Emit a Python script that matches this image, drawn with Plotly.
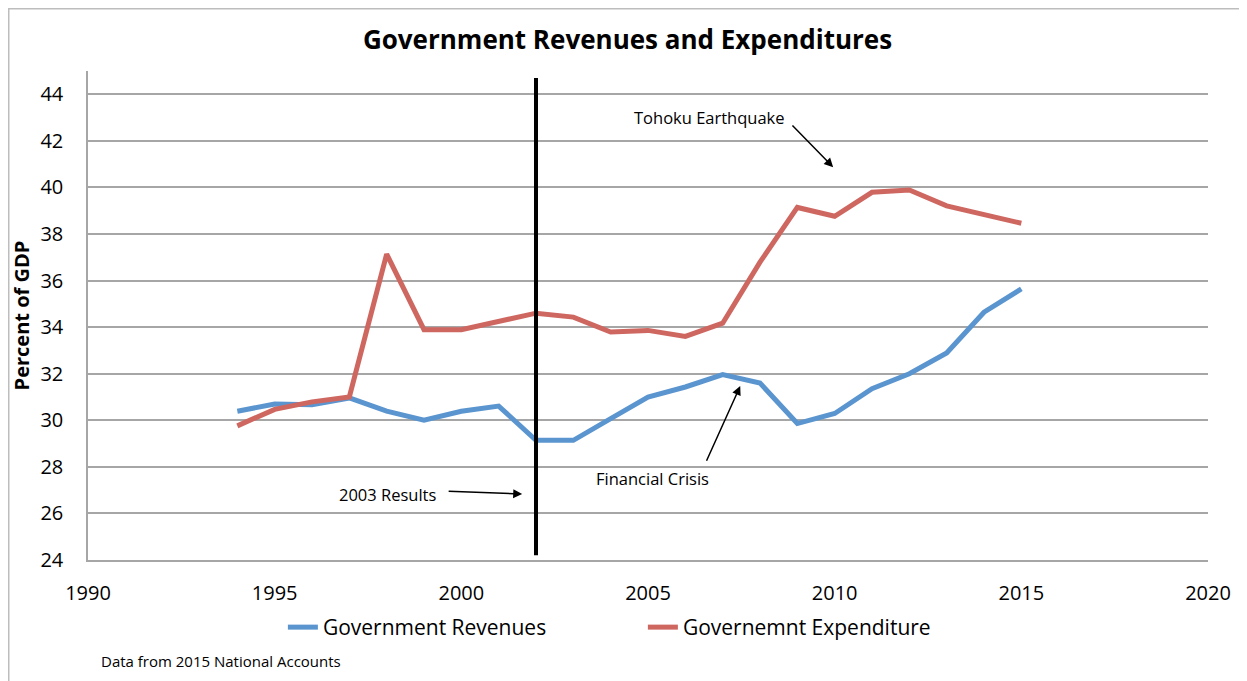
import plotly.graph_objects as go

years = list(range(1994, 2016))
revenues = [30.39, 30.70, 30.67, 30.96, 30.39, 30.00, 30.39, 30.61, 29.14, 29.14,
            30.07, 31.00, 31.43, 31.96, 31.60, 29.86, 30.29, 31.36, 32.00, 32.89,
            34.64, 35.64]
expenditure = [29.76, 30.47, 30.79, 31.00, 37.14, 33.89, 33.89, 34.24, 34.60, 34.43,
               33.79, 33.86, 33.60, 34.17, 36.79, 39.14, 38.76, 39.79, 39.89, 39.21,
               38.86, 38.46]
x_ticks = [1990, 1995, 2000, 2005, 2010, 2015, 2020]
y_ticks = [24, 26, 28, 30, 32, 34, 36, 38, 40, 42, 44]
results_year = 2002

FONT = "Open Sans"
BLUE = "#5b95cf"
RED = "#cf6761"

W, H = 1239, 673
ML, MR, MT, MB = 80, 39, 63, 121
PW, PH = W - ML - MR, H - MT - MB

fig = go.Figure()
fig.add_trace(go.Scatter(x=years, y=revenues, mode="lines", name="Government Revenues",
                         line=dict(color=BLUE, width=5)))
fig.add_trace(go.Scatter(x=years, y=expenditure, mode="lines", name="Governemnt Expenditure",
                         line=dict(color=RED, width=5)))

fig.add_shape(type="line", xref="x", yref="y", x0=results_year, x1=results_year,
              y0=24.2, y1=44.7, line=dict(color="black", width=4))

# outer chart border (left, top, right edges)
fig.add_shape(type="path", xref="paper", yref="paper",
              path=(f"M {(0.75 - ML) / PW} {-(MB + 5) / PH} "
                    f"L {(0.75 - ML) / PW} {1 + (MT - 0.75) / PH} "
                    f"L {(W - 0.75 - ML) / PW} {1 + (MT - 0.75) / PH} "
                    f"L {(W - 0.75 - ML) / PW} {-(MB + 5) / PH}"),
              line=dict(color="#bdbdbd", width=1.5), layer="below")

ann_font = dict(family=FONT, size=16.5, color="black")
arrows = [
    # (tip x, tip y, tail x, tail y)
    (2001.63, 26.83, 1999.62, 26.96),
    (2007.47, 31.47, 2006.55, 28.20),
    (2009.96, 40.87, 2008.83, 42.72),
]
for tx, ty, sx, sy in arrows:
    fig.add_annotation(x=tx, y=ty, ax=sx, ay=sy, xref="x", yref="y", axref="x", ayref="y",
                       text="", showarrow=True, arrowhead=2, arrowsize=1.2, arrowwidth=1.5,
                       arrowcolor="black")
labels = [
    ("2003 Results", 1998.04, 26.83),
    ("Financial Crisis", 2005.13, 27.48),
    ("Tohoku Earthquake", 2006.66, 43.02),
]
for t, lx, ly in labels:
    fig.add_annotation(x=lx, y=ly, xref="x", yref="y", text=t, showarrow=False, font=ann_font)

fig.add_annotation(text="Data from 2015 National Accounts", xref="paper", yref="paper",
                   x=0.0098, y=-0.2066, xanchor="left", yanchor="middle", showarrow=False,
                   font=dict(family=FONT, size=15, color="black"))

fig.update_layout(
    width=W, height=H,
    margin=dict(l=ML, r=MR, t=MT, b=MB),
    paper_bgcolor="white", plot_bgcolor="white",
    title=dict(text="<b>Government Revenues and Expenditures</b>", x=0.5, xanchor="center",
               y=0.9525, yanchor="middle", font=dict(family=FONT, size=26, color="black")),
    font=dict(family=FONT, color="black"),
    showlegend=True,
    legend=dict(orientation="h", x=0.174, xanchor="left", y=-0.138, yanchor="middle",
                font=dict(family=FONT, size=21, color="black"), entrywidth=315,
                bgcolor="rgba(0,0,0,0)"),
    xaxis=dict(range=[1990, 2020], tickvals=x_ticks, showgrid=False, zeroline=False,
               showline=True, linecolor="#a6a6a6", linewidth=1.5,
               ticks="outside", ticklen=14, tickcolor="rgba(0,0,0,0)",
               tickfont=dict(family=FONT, size=20, color="black")),
    yaxis=dict(range=[24, 45], tickvals=y_ticks, showgrid=True, gridcolor="#a6a6a6",
               gridwidth=1.5, zeroline=False, showline=True, linecolor="#a6a6a6",
               linewidth=1.5, ticks="outside", ticklen=19, tickcolor="rgba(0,0,0,0)",
               tickfont=dict(family=FONT, size=20, color="black"),
               title=dict(text="<b>Percent of GDP</b>", standoff=5,
                          font=dict(family=FONT, size=20, color="black"))),
)

fig.write_html("out.html")
